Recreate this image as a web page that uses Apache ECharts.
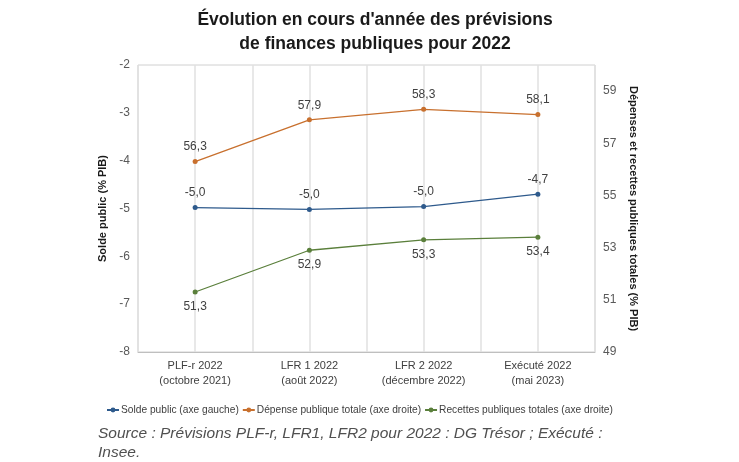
<!DOCTYPE html>
<html><head><meta charset="utf-8">
<script src="https://cdn.jsdelivr.net/npm/echarts@6/dist/echarts.min.js"></script>
<style>html,body{margin:0;padding:0;background:#fff}#c{width:739px;height:462px}</style>
</head><body><div id="c"></div>
<script>
const categories = ['PLF-r 2022\n(octobre 2021)', 'LFR 1 2022\n(août 2022)', 'LFR 2 2022\n(décembre 2022)', 'Exécuté 2022\n(mai 2023)'];
const soldePublic = [-4.98, -5.02, -4.96, -4.70];
const depensePublique = [56.3, 57.9, 58.3, 58.1];
const recettesPubliques = [51.3, 52.9, 53.3, 53.4];
const gridSlots = ['a','b','c','d','e','f','g','h','i'];

const fmt = p => p.value.toFixed(1).replace('.', ',');
const font = 'Liberation Sans, Arial, sans-serif';
const chart = echarts.init(document.getElementById('c'));
const lbl = (pos) => ({show: true, position: pos, formatter: fmt, color: '#404040', fontSize: 12, fontFamily: font, distance: 6});
chart.setOption({
  animation: false,
  title: {
    text: "Évolution en cours d'année des prévisions\nde finances publiques pour 2022",
    left: 370, textAlign: 'center', top: 3,
    textStyle: {fontSize: 17.5, fontWeight: 'bold', color: '#1a1a1a', fontFamily: font, lineHeight: 24}
  },
  graphic: [{
    type: 'text', left: 98, top: 424,
    style: {text: 'Source : Prévisions PLF-r, LFR1, LFR2 pour 2022 : DG Trésor ; Exécuté :\nInsee.',
      font: 'italic 15.5px ' + font, fill: '#505050', lineHeight: 19}
  }],
  legend: {
    left: 101, top: 400, itemWidth: 12, itemHeight: 6, itemGap: 3,
    textStyle: {fontSize: 10.2, color: '#404040', fontFamily: font, padding: [0,0,0,-3]},
    data: ['Solde public (axe gauche)', 'Dépense publique totale (axe droite)', 'Recettes publiques totales (axe droite)']
  },
  grid: {left: 138, right: 144, top: 65, bottom: 110, show: true, borderColor: '#d0d0d0', borderWidth: 1},
  xAxis: [{
    type: 'category', data: categories, boundaryGap: true,
    axisLine: {lineStyle: {color: '#bfbfbf'}}, axisTick: {show: false},
    splitLine: {show: false},
    axisLabel: {color: '#404040', fontSize: 11, fontFamily: font, lineHeight: 15, margin: 6, interval: 0}
  }, {
    type: 'category', data: gridSlots, boundaryGap: false, position: 'bottom',
    axisLine: {show: false}, axisTick: {show: false}, axisLabel: {show: false},
    splitLine: {show: true, lineStyle: {color: '#e0e0e0', width: 1.5}}
  }],
  yAxis: [{
    type: 'value', min: -8, max: -2, interval: 1, position: 'left',
    name: 'Solde public (% PIB)', nameLocation: 'middle', nameGap: 25,
    nameTextStyle: {fontSize: 11, fontWeight: 'bold', color: '#1a1a1a', fontFamily: font},
    axisLine: {show: false}, axisTick: {show: false}, splitLine: {show: false},
    axisLabel: {color: '#595959', fontSize: 12, fontFamily: font, margin: 8}
  }, {
    type: 'value', min: 49, max: 60, interval: 1, position: 'right',
    name: 'Dépenses et recettes publiques totales (% PIB)', nameLocation: 'middle', nameGap: 26, nameRotate: -90,
    nameTextStyle: {fontSize: 11, fontWeight: 'bold', color: '#1a1a1a', fontFamily: font},
    axisLine: {show: false}, axisTick: {show: false}, splitLine: {show: false},
    axisLabel: {color: '#595959', fontSize: 12, fontFamily: font, margin: 8,
      formatter: v => (v % 2 === 1 ? String(v) : '')}
  }],
  series: [{
    name: 'Solde public (axe gauche)', type: 'line', yAxisIndex: 0, data: soldePublic,
    color: '#2E5A8C', symbol: 'circle', symbolSize: 5, lineStyle: {width: 1.3},
    label: lbl('top')
  }, {
    name: 'Dépense publique totale (axe droite)', type: 'line', yAxisIndex: 1, data: depensePublique,
    color: '#C8702E', symbol: 'circle', symbolSize: 5, lineStyle: {width: 1.3},
    label: lbl('top')
  }, {
    name: 'Recettes publiques totales (axe droite)', type: 'line', yAxisIndex: 1, data: recettesPubliques,
    color: '#5A7F3B', symbol: 'circle', symbolSize: 5, lineStyle: {width: 1.3},
    label: lbl('bottom')
  }]
});
</script></body></html>
